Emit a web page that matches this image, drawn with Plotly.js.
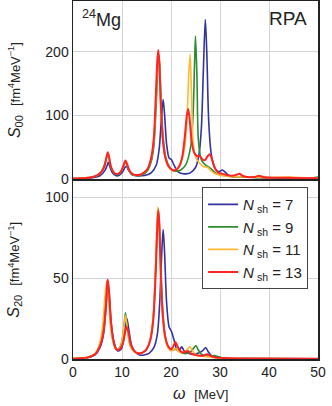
<!DOCTYPE html>
<html>
<head>
<meta charset="utf-8">
<script src="https://cdn.plot.ly/plotly-3.0.1.min.js"></script>
<style>
  html, body { margin: 0; padding: 0; background: #fff; }
  #plot { width: 332px; height: 406px; }
</style>
</head>
<body>
<div id="plot"></div>
<script>
// legend names and colours, one per basis size
var shells = [7, 9, 11, 13];
var colors = ["#3232a0", "#2e8b30", "#ffb833", "#ff2424"];

// ---- S00 (top panel) ----
var s00_x7 = [0, 4, 5.5, 6.5, 7, 7.2, 7.5, 8, 8.8, 9.5, 10.2, 10.6, 10.9, 11.3, 12, 13, 14, 15, 16, 17, 17.6, 18, 18.4, 18.7, 19.1, 19.6, 20.1, 20.6, 21.3, 22, 23, 24, 25, 25.7, 26.2, 26.6, 27, 27.3, 27.7, 28.2, 28.8, 29.5, 30, 30.5, 31, 31.7, 32.5, 34, 36, 38, 42, 50];
var s00_y7 = [0.3, 2, 5, 13, 22, 26, 20, 10, 5, 6, 12, 18, 20, 14, 7, 5, 5, 6, 10, 22, 48, 90, 125, 100, 55, 33, 30, 22, 12, 9, 8, 10, 18, 38, 80, 170, 251, 200, 90, 40, 20, 12, 12, 14, 11, 6, 4, 3, 3, 2, 1, 0.5];

var s00_x9 = [0, 4, 5.5, 6.5, 6.8, 7.1, 7.4, 7.8, 8.5, 9.2, 9.8, 10.3, 10.7, 11.1, 11.6, 12.3, 13, 13.8, 14.5, 15.3, 16, 16.5, 17, 17.3, 17.5, 17.7, 18, 18.4, 18.9, 19.6, 20.4, 21, 22, 23, 24, 24.5, 24.8, 25, 25.3, 25.6, 26.2, 27, 28, 29, 30, 32, 35, 40, 45, 48, 49, 50];
var s00_y9 = [0.5, 3, 8, 24, 32, 38, 31, 17, 8, 7, 11, 20, 27, 21, 11, 6, 5, 6, 8, 14, 28, 52, 120, 175, 195, 180, 120, 65, 35, 20, 13, 12, 14, 22, 50, 100, 180, 225, 160, 60, 30, 22, 17, 10, 6, 4, 3, 2, 1.5, 1, 1.5, 3];

var s00_x11 = [0, 4, 5, 6, 6.5, 6.8, 7.1, 7.4, 7.8, 8.5, 9.2, 9.8, 10.3, 10.7, 11.1, 11.6, 12.3, 13, 13.8, 14.5, 15.3, 16, 16.5, 16.9, 17.2, 17.4, 17.6, 17.9, 18.3, 18.8, 19.5, 20.3, 21, 22, 22.8, 23.3, 23.6, 23.9, 24.2, 24.5, 25, 25.5, 26.5, 27.5, 28, 29, 30, 32, 35, 40, 44, 46, 50];
var s00_y11 = [0.5, 3, 6, 13, 22, 32, 40, 32, 18, 9, 8, 12, 20, 28, 21, 12, 7, 6, 7, 10, 17, 34, 62, 120, 175, 196, 178, 118, 63, 34, 19, 13, 15, 25, 50, 100, 160, 196, 130, 60, 35, 28, 20, 18, 14, 8, 6, 4, 3, 2, 3, 2, 1];

var s00_x13 = [0, 2, 4, 5, 6, 6.5, 6.8, 7.1, 7.4, 7.8, 8.5, 9.2, 9.8, 10.3, 10.7, 11.1, 11.6, 12.3, 13, 13.8, 14.5, 15.3, 16, 16.5, 16.9, 17.2, 17.4, 17.6, 17.9, 18.3, 18.8, 19.5, 20.3, 21, 21.7, 22.3, 22.8, 23.2, 23.5, 23.8, 24.2, 24.7, 25.3, 25.9, 26.5, 27, 27.5, 27.9, 28.4, 29, 29.7, 30.5, 31.5, 32.5, 33.5, 34, 34.6, 35.5, 37, 38, 39, 41, 43, 45, 50];
var s00_y13 = [0.5, 1, 3, 6, 13, 22, 33, 42, 33, 18, 9, 8, 12, 21, 29, 22, 12, 7, 6, 7, 10, 17, 35, 65, 130, 185, 203, 185, 120, 65, 35, 20, 14, 14, 20, 35, 65, 98, 110, 95, 60, 42, 36, 36, 30, 30, 36, 39, 30, 16, 10, 8, 6, 5, 7, 8, 5, 3, 3, 5, 2.5, 2, 2, 1.5, 1];

// ---- S20 (bottom panel) ----
var s20_x7 = [0, 3, 4.5, 5.5, 6.2, 6.7, 7.1, 7.4, 7.8, 8.4, 9.1, 9.8, 10.4, 10.8, 11, 11.4, 12, 12.8, 13.6, 14.5, 15.5, 16.5, 17.2, 17.7, 18.1, 18.4, 18.7, 19.1, 19.6, 20.1, 20.6, 21.2, 21.8, 22.2, 22.7, 23.5, 24.5, 25.5, 26.4, 27.1, 27.6, 28.3, 29.5, 31, 35, 50];
var s20_y7 = [0.1, 0.8, 2.5, 7, 15, 30, 46, 40, 22, 10, 5, 6, 13, 22, 25, 18, 8, 4, 2.5, 2.5, 3.5, 7, 15, 35, 65, 80, 65, 35, 20, 17, 12, 6, 6, 7.5, 5, 3.5, 3, 3.5, 5, 7, 4.5, 2, 1, 0.5, 0.2, 0.1];

var s20_x9 = [0, 3, 4.5, 5.5, 6.2, 6.6, 7, 7.3, 7.7, 8.3, 9, 9.7, 10.3, 10.7, 11.1, 11.7, 12.5, 13.3, 14.2, 15, 15.8, 16.4, 16.9, 17.4, 17.7, 18, 18.4, 18.9, 19.5, 20.2, 21, 21.7, 22.5, 23.4, 24.2, 24.8, 25.1, 25.5, 26.2, 27, 28, 28.9, 29.5, 31, 35, 50];
var s20_y9 = [0.2, 1, 3.2, 9, 20, 36, 48, 41, 22, 10, 6, 8, 17, 28.5, 19, 8, 4.5, 3.5, 4, 6, 12, 26, 58, 93, 78, 50, 26, 13, 7, 5.5, 6, 4.5, 3.5, 3.5, 5, 7.5, 8.2, 6, 3, 2, 1.8, 2.2, 1.5, 0.5, 0.3, 0.1];

var s20_x11 = [0, 3, 4.5, 5.5, 6.1, 6.5, 6.9, 7.2, 7.6, 8.2, 8.9, 9.6, 10.2, 10.7, 11.1, 11.7, 12.5, 13.3, 14.2, 15, 15.8, 16.4, 16.9, 17.3, 17.6, 17.9, 18.3, 18.8, 19.4, 20, 20.6, 21.1, 21.6, 22.3, 23, 23.6, 23.9, 24.3, 25, 26, 27, 28, 30, 35, 50];
var s20_y11 = [0.2, 1, 3.5, 10, 22, 38, 48, 40, 22, 10, 6, 7, 15, 27, 18, 8, 4.5, 3.5, 4, 6, 13, 28, 62, 94, 80, 50, 26, 13, 7, 5, 6, 6.5, 4.5, 4, 5, 7, 7.6, 5.5, 3, 2, 1.5, 1.2, 0.6, 0.3, 0.1];

var s20_x13 = [0, 3, 4.5, 5.5, 6.2, 6.7, 7, 7.1, 7.3, 7.7, 8.2, 8.8, 9.5, 10.2, 10.6, 10.9, 11.3, 11.8, 12.5, 13.3, 14.2, 15, 15.8, 16.4, 16.9, 17.2, 17.4, 17.6, 17.9, 18.3, 18.8, 19.4, 20, 20.5, 20.9, 21.3, 21.9, 22.5, 23, 23.5, 24, 25, 26.5, 27.4, 28, 29, 31, 35, 50];
var s20_y13 = [0.2, 1, 3, 8, 16, 32, 47, 49, 44, 25, 12, 6, 6, 10, 16, 20, 17, 9, 5, 3.5, 4, 6, 12, 25, 55, 82, 92, 85, 55, 28, 14, 8, 6, 8, 10.5, 8, 5, 4, 4.5, 5, 3.5, 2.5, 2, 3, 2, 1, 0.6, 0.3, 0.1];

var topX = [s00_x7, s00_x9, s00_x11, s00_x13];
var topY = [s00_y7, s00_y9, s00_y11, s00_y13];
var botX = [s20_x7, s20_x9, s20_x11, s20_x13];
var botY = [s20_y7, s20_y9, s20_y11, s20_y13];

var data = [];
shells.forEach(function (n, i) {
  data.push({
    x: topX[i], y: topY[i], xaxis: "x", yaxis: "y",
    type: "scatter", mode: "lines", showlegend: false,
    line: {color: colors[i], width: i == 3 ? 2 : 1.6, shape: "spline", smoothing: 0.8},
    hoverinfo: "skip"
  });
});
shells.forEach(function (n, i) {
  data.push({
    x: botX[i], y: botY[i], xaxis: "x2", yaxis: "y2",
    type: "scatter", mode: "lines",
    name: "<i>N</i><sub> sh</sub> = " + n,
    line: {color: colors[i], width: i == 3 ? 2 : 1.6, shape: "spline", smoothing: 0.8}
  });
});

var axisStyle = {
  showline: true, mirror: true, linecolor: "#222", linewidth: 1.5,
  showgrid: true, gridcolor: "#d4d4d4", gridwidth: 1,
  zeroline: false, ticks: "", tickfont: {size: 14, color: "#222"}
};

var layout = {
  width: 332, height: 406,
  margin: {l: 73, r: 14, t: 1, b: 47},
  paper_bgcolor: "#fff", plot_bgcolor: "#fff",
  font: {family: "Liberation Sans, Arial, sans-serif", color: "#222"},
  xaxis: Object.assign({}, axisStyle, {range: [0, 50], dtick: 10, anchor: "y", showticklabels: false}),
  yaxis: Object.assign({}, axisStyle, {range: [0, 280], tickvals: [0, 100, 200], domain: [0.503, 1], anchor: "x"}),
  xaxis2: Object.assign({}, axisStyle, {range: [0, 50], dtick: 10, anchor: "y2"}),
  yaxis2: Object.assign({}, axisStyle, {range: [0, 110], tickvals: [0, 50, 100], domain: [0, 0.497], anchor: "x2"}),
  legend: {
    x: 0.527, y: 0.48, xanchor: "left", yanchor: "top",
    bgcolor: "#fff", bordercolor: "#444", borderwidth: 1,
    font: {size: 15, color: "#222"}, tracegroupgap: 0
  },
  annotations: [
    {text: "<sup>24</sup>Mg", xref: "paper", yref: "paper", x: 0.03, y: 0.95,
     xanchor: "left", yanchor: "middle", showarrow: false, font: {size: 18}},
    {text: "RPA", xref: "paper", yref: "paper", x: 0.965, y: 0.95,
     xanchor: "right", yanchor: "middle", showarrow: false, font: {size: 19}},
    {text: "<i>S</i><sub>00</sub>  <span style='font-size:13px'>[fm<sup>4</sup>MeV<sup>−1</sup>]</span>",
     xref: "paper", yref: "paper", x: -0.237, y: 0.751, textangle: -90,
     xanchor: "center", yanchor: "middle", showarrow: false, font: {size: 16}},
    {text: "<i>S</i><sub>20</sub>  <span style='font-size:13px'>[fm<sup>4</sup>MeV<sup>−1</sup>]</span>",
     xref: "paper", yref: "paper", x: -0.237, y: 0.249, textangle: -90,
     xanchor: "center", yanchor: "middle", showarrow: false, font: {size: 16}},
    {text: "<i>ω</i>  <span style='font-size:13px'>[MeV]</span>",
     xref: "paper", yref: "paper", x: 0.52, y: -0.095,
     xanchor: "center", yanchor: "middle", showarrow: false, font: {size: 16}}
  ]
};

Plotly.newPlot("plot", data, layout, {displayModeBar: false, staticPlot: true});
</script>
</body>
</html>
